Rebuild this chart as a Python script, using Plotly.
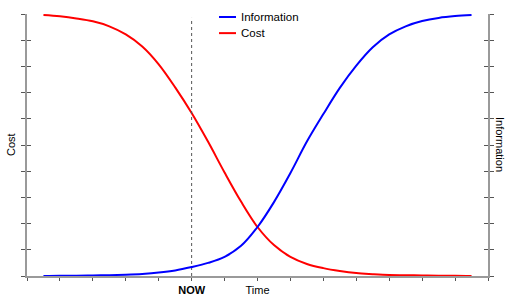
import plotly.graph_objects as go

# Data
time_x = [0.5, 1, 1.5, 2, 2.5, 3, 3.5, 4, 4.5, 5, 5.5, 6, 6.5, 7, 7.5, 8, 8.5, 9, 9.5, 10, 10.5, 11, 11.5, 12, 12.5, 13, 13.5]
cost = [0.996, 0.991, 0.983, 0.972, 0.953, 0.922, 0.876, 0.808, 0.72, 0.622, 0.512, 0.395, 0.284, 0.187, 0.118, 0.073, 0.046, 0.03, 0.019, 0.011, 0.007, 0.004, 0.003, 0.002, 0.001, 0.001, 0.0]
information = [0.0, 0.001, 0.001, 0.002, 0.003, 0.005, 0.008, 0.013, 0.021, 0.034, 0.05, 0.073, 0.115, 0.187, 0.282, 0.393, 0.513, 0.618, 0.718, 0.803, 0.873, 0.922, 0.953, 0.973, 0.985, 0.992, 0.996]
now_x = 5
x_tickvals = list(range(0, 15))
x_ticktext = ["", "", "", "", "", "<b>NOW</b>", "", "Time", "", "", "", "", "", "", ""]
y_tickvals = [i / 10 for i in range(11)]
legend_names = ["Information", "Cost"]
legend_colors = ["#0000ff", "#ff0000"]

FONT = "Liberation Sans, Arial, sans-serif"

fig = go.Figure()
fig.add_trace(go.Scatter(x=time_x, y=information, name="Information", mode="lines",
                         line=dict(color="#0000ff", width=2, shape="spline", smoothing=1), yaxis="y2"))
fig.add_trace(go.Scatter(x=time_x, y=cost, name="Cost", mode="lines",
                         line=dict(color="#ff0000", width=2, shape="spline", smoothing=1), yaxis="y"))
# NOW dashed line
fig.add_trace(go.Scatter(x=[now_x, now_x], y=[0, 0.985], mode="lines",
                         line=dict(color="#555555", width=1, dash="dot"), hoverinfo="skip"))
fig.add_trace(go.Scatter(x=[None], y=[None], yaxis="y3"))
fig.add_trace(go.Scatter(x=[None], y=[None], yaxis="y4"))

axis_line = dict(showline=True, linecolor="#9a9a9a", linewidth=2, showgrid=False,
                 zeroline=False, automargin=False)
inner_ticks = dict(range=[0, 1], tickvals=y_tickvals, showticklabels=False, ticks="inside",
                   ticklen=4, tickcolor="#555555", overlaying="y", anchor="x",
                   showline=False, showgrid=False, zeroline=False, automargin=False)

# custom compact legend
shapes = []
annotations = []
for i, (nm, col) in enumerate(zip(legend_names, legend_colors)):
    yy = 0.9885 - i * 0.0615
    shapes.append(dict(type="line", xref="paper", yref="paper", x0=0.4165, x1=0.4534,
                       y0=yy, y1=yy, line=dict(color=col, width=2)))
    annotations.append(dict(text=nm, xref="paper", yref="paper", x=0.46, y=yy,
                            xanchor="left", yanchor="middle", showarrow=False,
                            font=dict(size=11.5)))

annotations += [
    dict(text="Cost", xref="paper", yref="paper", x=-0.0347, y=0.5, textangle=-90,
         xanchor="center", yanchor="middle", showarrow=False, font=dict(size=11)),
    dict(text="Information", xref="paper", yref="paper", x=1.026, y=0.5, textangle=90,
         xanchor="center", yanchor="middle", showarrow=False, font=dict(size=11)),
]

fig.update_layout(
    width=515, height=304,
    margin=dict(l=27, r=27, t=14, b=28),
    paper_bgcolor="white", plot_bgcolor="white",
    font=dict(family=FONT, size=11, color="black"),
    showlegend=False,
    xaxis=dict(range=[0, 14], tickvals=x_tickvals, ticktext=x_ticktext, ticks="outside",
               ticklen=3, tickwidth=1, tickcolor="#555555", tickfont=dict(size=11), **axis_line),
    yaxis=dict(range=[0, 1], tickvals=y_tickvals, showticklabels=False, ticks="outside",
               ticklen=4, tickcolor="#555555", side="left", **axis_line),
    yaxis2=dict(range=[0, 1], tickvals=y_tickvals, showticklabels=False, ticks="outside",
                ticklen=4, tickcolor="#555555", side="right", overlaying="y", **axis_line),
    yaxis3=dict(side="left", **inner_ticks),
    yaxis4=dict(side="right", **inner_ticks),
    shapes=shapes,
    annotations=annotations,
)

fig.write_html("out.html")
